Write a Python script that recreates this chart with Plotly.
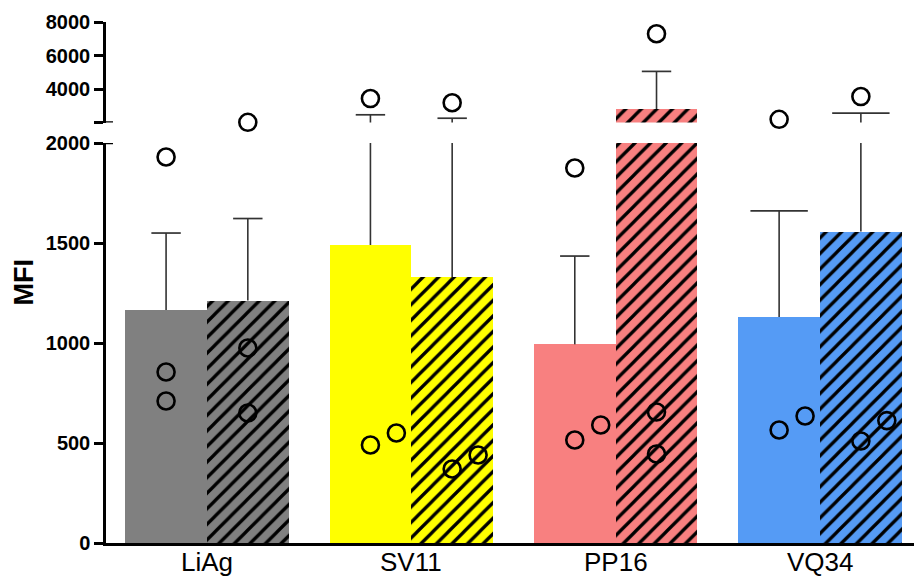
import numpy as np
import plotly.graph_objects as go

# Antigen groups on the x axis
categories = ["LiAg", "SV11", "PP16", "VQ34"]

# Individual MFI readings per group (three replicates each)
plain_values = [
    [1930, 855, 710],
    [3430, 490, 550],
    [1875, 515, 590],
    [2190, 565, 635],
]
hatched_values = [
    [2011, 975, 650],
    [3180, 370, 440],
    [7300, 655, 445],
    [3550, 510, 612],
]

# Lower and upper segments of the broken y axis
lower_ticks = [0, 500, 1000, 1500, 2000]
upper_ticks = [2000, 4000, 6000, 8000]
upper_tick_text = ["", "4000", "6000", "8000"]
BREAK = 2000
TOP = 8000

fills = ["#808080", "#FFFF00", "#F88080", "#559BF5"]
cap_px = [21, 21, 21, 41]

HALF = 0.2          # offset of each bar from the group centre
BAR_W = 0.4
NUDGE = 0.127       # sideways shift for overlapping points
CROWD = 125         # readings closer than this (in MFI) are set side by side
FONT = "Liberation Sans, Arial, sans-serif"


def mean_sem(vals):
    v = np.asarray(vals, dtype=float)
    return v.mean(), v.std(ddof=1) / np.sqrt(len(v))


def spread(vals, centre):
    """Place points on the bar centre, shifting any that crowd the one below."""
    order = np.argsort(vals)
    xs = np.full(len(vals), centre, dtype=float)
    prev = None
    for k in order:
        if prev is not None and abs(vals[k] - vals[prev]) < CROWD and xs[prev] == centre:
            xs[k] = centre + NUDGE
        prev = k
    return xs


fig = go.Figure()

for i, cat in enumerate(categories):
    for vals, dx, hatched in ((plain_values[i], -HALF, False), (hatched_values[i], HALF, True)):
        xc = i + dx
        m, s = mean_sem(vals)
        marker = dict(color=fills[i], line=dict(width=0))
        if hatched:
            marker["pattern"] = dict(shape="/", fgcolor="black", fgopacity=1, bgcolor=fills[i],
                                     size=11, solidity=0.3, fillmode="overlay")
        # the bar is drawn on both segments; each axis clips its own part
        for ax in ("y", "y2"):
            fig.add_trace(go.Bar(x=[xc], y=[m], width=BAR_W, marker=marker,
                                 yaxis=ax, showlegend=False, hoverinfo="skip"))
            fig.add_trace(go.Scatter(x=[xc, xc], y=[m, m + s], mode="lines",
                                     line=dict(color="#333333", width=1.6),
                                     yaxis=ax, showlegend=False, hoverinfo="skip"))
        # cap of the SEM whisker
        top = m + s
        fig.add_trace(go.Scatter(x=[xc], y=[top], mode="markers",
                                 marker=dict(symbol="line-ew", size=cap_px[i],
                                             line=dict(color="#333333", width=1.7)),
                                 yaxis="y2" if top > BREAK else "y",
                                 cliponaxis=False, showlegend=False, hoverinfo="skip"))
        # individual readings
        v = np.asarray(vals, dtype=float)
        xs = spread(v, xc)
        for ax, sel in (("y", v <= BREAK), ("y2", v > BREAK)):
            if sel.any():
                fig.add_trace(go.Scatter(x=xs[sel], y=v[sel], mode="markers",
                                         marker=dict(symbol="circle-open", size=17, color="black",
                                                     line=dict(width=2.6)),
                                         yaxis=ax, cliponaxis=False,
                                         showlegend=False, hoverinfo="skip"))

W, H = 914, 579
ML, MR, MT, MB = 106, 0, 22, 36
pw = W - ML - MR
ph = H - MT - MB
lower_top = (H - MB - 143) / ph
upper_bottom = (H - MB - 122.5) / ph

axis_common = dict(showline=True, linecolor="black", linewidth=2.5, ticks="outside",
                   ticklen=9, tickwidth=2.5, tickcolor="black", showgrid=False,
                   zeroline=False, tickfont=dict(family=FONT, size=20, color="black", weight="bold"))

# category names under the baseline
cat_labels = [dict(text=c, x=i, xref="x", y=0, yref="paper", yanchor="top", yshift=-2,
                   showarrow=False, font=dict(family=FONT, size=26, color="black"))
              for i, c in enumerate(categories)]

fig.update_layout(
    width=W, height=H,
    margin=dict(l=ML, r=MR, t=MT, b=MB),
    paper_bgcolor="white", plot_bgcolor="white",
    barmode="overlay", bargap=0,
    xaxis=dict(range=[-0.494, 3.46], showticklabels=False,
               showline=True, linecolor="black", linewidth=2.5, ticks="", showgrid=False,
               zeroline=False, anchor="y"),
    yaxis=dict(domain=[0, lower_top], range=[0, BREAK], tickvals=lower_ticks, **axis_common),
    yaxis2=dict(domain=[upper_bottom, 1], range=[BREAK, TOP], tickvals=upper_ticks,
                ticktext=upper_tick_text, anchor="x", **axis_common),
    annotations=cat_labels + [
        dict(text="MFI", xref="paper", yref="paper", x=(23 - ML) / pw, y=0.5,
             textangle=-90, showarrow=False, xanchor="center", yanchor="middle",
             font=dict(family=FONT, size=27, color="black", weight="bold"))],
    shapes=[
        dict(type="line", xref="paper", yref="y2", x0=0, x1=7 / pw, y0=BREAK, y1=BREAK,
             line=dict(color="black", width=2.5)),
        dict(type="line", xref="paper", yref="y", x0=0, x1=7 / pw, y0=BREAK, y1=BREAK,
             line=dict(color="black", width=2.5)),
    ],
)

fig.write_html("out.html")
